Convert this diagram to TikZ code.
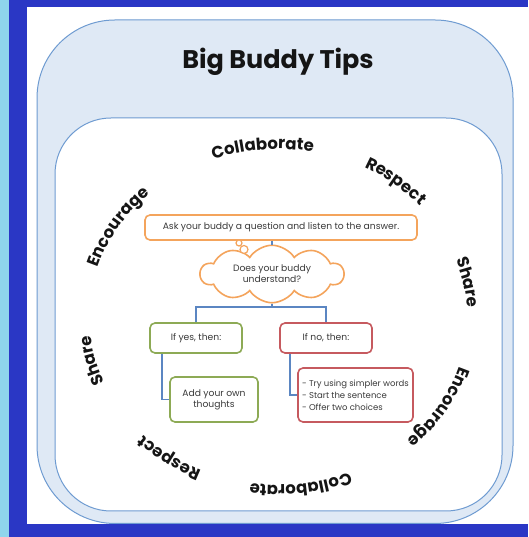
\documentclass[tikz,border=0pt]{standalone}
\usepackage{fontspec}
\setmainfont{Poppins}
\usetikzlibrary{shapes.symbols,decorations.text,calc}
\definecolor{skyb}{HTML}{8FD5EC}
\definecolor{frameb}{HTML}{2A37C5}
\definecolor{panelb}{HTML}{DFE9F5}
\definecolor{edgeb}{HTML}{6E9BD1}
\definecolor{orng}{HTML}{F4A45C}
\definecolor{grn}{HTML}{8DAA55}
\definecolor{rd}{HTML}{C65A5F}
\definecolor{lineb}{HTML}{5B86C2}
\definecolor{txt}{HTML}{3A3A3A}
\definecolor{wordc}{HTML}{151515}
\newcommand\WordFnt{\fontsize{16.5}{16.5}\selectfont\bfseries\color{wordc}}
\tikzset{
  tipbox/.style={draw, fill=white, rounded corners=5pt, line width=1.6pt,
    font=\fontsize{9.2}{11}\selectfont, text=txt, align=center, inner sep=2pt},
  conn/.style={draw=lineb, line width=1.5pt},
  panel/.style={draw=edgeb, line width=1pt},
}
\begin{document}
\begin{tikzpicture}[x=1pt,y=1pt]
\useasboundingbox (0,0) rectangle (528,537);
\fill[white] (0,0) rectangle (528,537);
% outer and inner panels
\path[panel, fill=panelb, rounded corners=78pt] (37,13.5) rectangle (513,517);
\path[panel, fill=white, rounded corners=56pt] (55,26) rectangle (502,419);
% frame
\fill[skyb] (0,0) rectangle (9,537);
\fill[frameb] (9,0) rectangle (27,537);
\fill[frameb] (9,530) rectangle (528,537);
\fill[frameb] (9,0) rectangle (528,13);
% title
\node (title) at (278,475) {\fontsize{25.5}{25.5}\selectfont\bfseries\color{wordc}Big Buddy Tips};
% words around
\coordinate (E) at (278.5,220);
\foreach \t/\w in {95/Collaborate, 51/Respect, 11/Share, -31/Encourage, -83/Collaborate, -126/Respect, -166/Share, 149/Encourage}{
  \path[decorate, decoration={text along path, text={|\WordFnt|\w}, text align=center}]
    (E) ++(\t+40:189pt and 168pt) arc[start angle=\t+40, end angle=\t-40, x radius=189pt, y radius=168pt];
}
% flowchart
\node[tipbox, draw=orng, minimum width=272pt, minimum height=25pt] (ask) at (281,309.5) {Ask your buddy a question and listen to the answer.};
\node[cloud, draw=orng, fill=white, line width=1.6pt, cloud puffs=10, cloud puff arc=115, aspect=2.7,
  minimum width=143pt, minimum height=52pt, inner sep=0pt, font=\fontsize{9.2}{11}\selectfont, text=txt, align=center] (cloud) at (272,263) {Does your buddy\\understand?};
\node[circle, draw=orng, fill=white, line width=1.2pt, minimum size=6pt, inner sep=0pt] (bub1) at (239,294) {};
\node[circle, draw=orng, fill=white, line width=1.2pt, minimum size=8pt, inner sep=0pt] (bub2) at (244,287.5) {};
\node[tipbox, draw=grn, minimum width=92pt, minimum height=30pt] (yes) at (196,199) {If yes, then:};
\node[tipbox, draw=rd, minimum width=92pt, minimum height=30pt] (no) at (326,199) {If no, then:};
\node[tipbox, draw=grn, minimum width=88pt, minimum height=45pt] (add) at (214,137.5) {Add your own\\thoughts};
\node[tipbox, draw=rd, minimum width=115pt, minimum height=54pt, align=left, font=\fontsize{8.5}{12}\selectfont] (tips) at (355.5,142) {- Try using simpler words\\- Start the sentence\\- Offer two choices};
\coordinate (j) at (272,230);
\draw[conn] (ask.south -| cloud.north) -- (cloud.north |- bub2.north);
\draw[conn] (cloud.south) -- (j);
\draw[conn] (yes.north) |- (j) -| (no.north);
\draw[conn] ([xshift=-34pt]yes.south) |- (add.west);
\draw[conn] ([xshift=-36pt]no.south) |- (tips.west);
\end{tikzpicture}
\end{document}
